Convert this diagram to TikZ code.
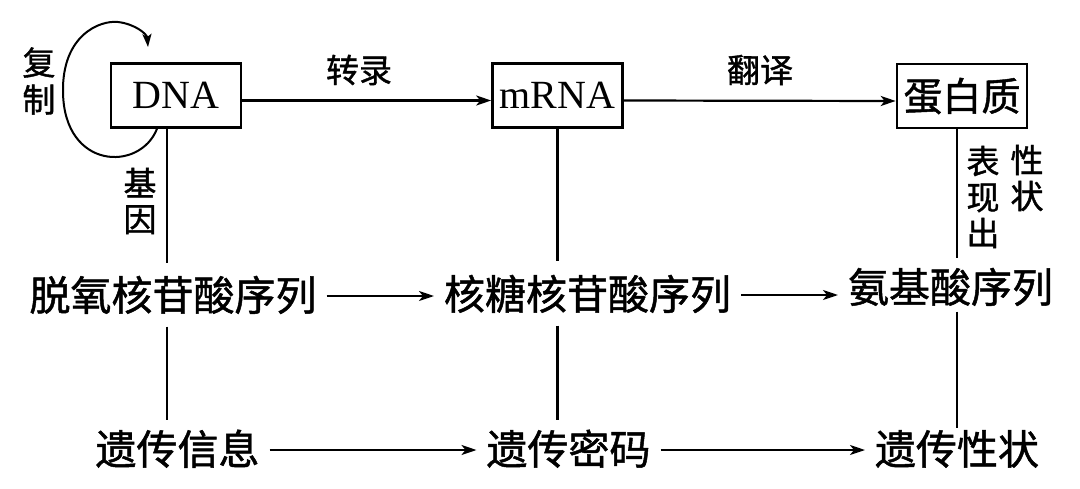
\documentclass[tikz,border=0pt]{standalone}
\usepackage{fontspec}
\setmainfont{Liberation Serif}
\newfontfamily\cjk{Noto Sans CJK SC}[FakeBold=1.2]
\usetikzlibrary{arrows.meta,calc}
\tikzset{
  box/.style={draw, line width=2.6pt, inner sep=0pt, minimum width=130pt, minimum height=64pt, font=\fontsize{40}{44}\selectfont},
  rowtext/.style={inner sep=0pt, outer sep=10pt, text height=35pt, text depth=6pt, font=\cjk\fontsize{41}{44}\selectfont},
  lbl/.style={inner sep=0pt, align=center, font=\cjk\fontsize{33}{36}\selectfont},
  conn/.style={line width=2.2pt},
  arr/.style={conn, -{Stealth[length=15pt,width=10pt,inset=4pt]}}
}
\begin{document}
\begin{tikzpicture}[x=1pt,y=-1pt]
\useasboundingbox (0,0) rectangle (1080,488);
% boxes
\node[box] (dna) at (176,95.5) {DNA};
\node[box] (mrna) at (557.5,95.5) {mRNA};
\node[box, font=\cjk\fontsize{39}{42}\selectfont] (prot) at (962,96) {蛋白质};
% middle row
\node[rowtext] (seq1) at (173,296) {脱氧核苷酸序列};
\node[rowtext] (seq2) at (587.5,295) {核糖核苷酸序列};
\node[rowtext] (seq3) at (950.5,288) {氨基酸序列};
% bottom row
\node[rowtext] (info) at (177.5,450) {遗传信息};
\node[rowtext] (code) at (568.5,450) {遗传密码};
\node[rowtext] (trait) at (957,450) {遗传性状};
% labels
\node[lbl] (l1) at (359,70) {转录};
\node[lbl] (l2) at (760,70) {翻译};
\node[lbl, font=\cjk\fontsize{33}{37}\selectfont] (l3) at (39,81) {复\\制};
\node[lbl, font=\cjk\fontsize{33}{36}\selectfont] (l4) at (140,201) {基\\因};
\node[lbl, font=\cjk\fontsize{33}{36}\selectfont] (l5) at (983,197) {表\\现\\出};
\node[lbl, font=\cjk\fontsize{33}{36}\selectfont] (l6) at (1027,178) {性\\状};
% top arrows
\draw[arr] ([yshift=-5pt]dna.east) -- ([yshift=-5pt]mrna.west);
\draw[arr] ([yshift=-5pt]mrna.east) -- ([yshift=-5pt]prot.west);
% middle arrows
\draw[arr] (seq1.east) -- (seq1.east -| seq2.west);
\draw[arr] (seq2.east) -- (seq2.east -| seq3.west);
% bottom arrows
\draw[arr] (info) -- (code);
\draw[arr] (code) -- (trait);
% vertical lines
\coordinate (v1) at ([xshift=-9pt]dna.south);
\coordinate (v2) at (mrna.south);
\coordinate (v3) at ([xshift=-5pt]prot.south);
\draw[conn] (v1) -- ([yshift=3pt]v1 |- seq1.north);
\draw[conn] (v1 |- seq1.south) -- (v1 |- info.north);
\draw[conn] (v2) -- ([yshift=4pt]v2 |- seq2.north);
\draw[conn] (v2 |- seq2.south) -- (v2 |- code.north);
\draw[conn] (v3) -- (v3 |- seq3.north);
\draw[conn] ([yshift=7pt]v3 |- seq3.south) -- ([yshift=-8pt]v3 |- trait.north);
% replication loop
\coordinate (ls) at ([xshift=-19pt]dna.south);
\coordinate (le) at (148,47);
\draw[conn, line width=2pt, -{Stealth[length=13pt,width=9pt,inset=3pt]}]
  (ls) .. controls (140,172) and (64,170) .. (63,92)
       .. controls (62,35) and (100,20) .. (118,22)
       .. controls (135,24) and (147,34) .. (le);
\end{tikzpicture}
\end{document}
